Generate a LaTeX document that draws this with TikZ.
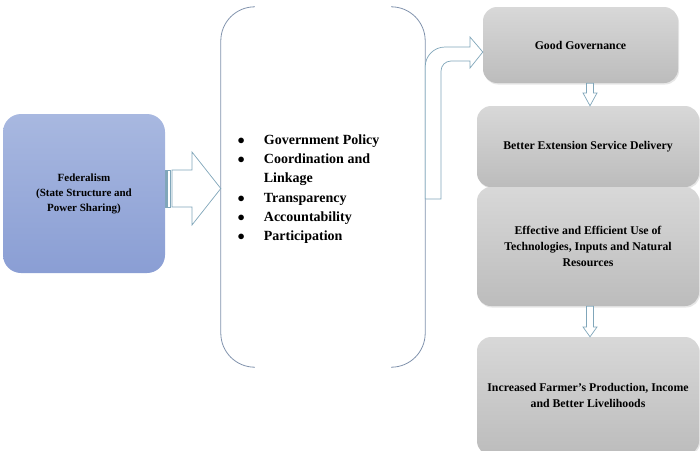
\documentclass[tikz,border=0pt]{standalone}
\usepackage{fontspec}
\setmainfont{Liberation Serif}
\usetikzlibrary{positioning,shadows}

\definecolor{fedtop}{RGB}{168,184,224}
\definecolor{fedbot}{RGB}{138,158,212}
\definecolor{boxtop}{RGB}{216,216,216}
\definecolor{boxbot}{RGB}{188,188,188}
\definecolor{brace}{RGB}{128,146,172}
\definecolor{arrowline}{RGB}{128,166,186}

\tikzset{
  fedbox/.style={rounded corners=18pt, top color=fedtop, bottom color=fedbot,
    minimum width=162pt, minimum height=159pt, align=center,
    font=\fontsize{11}{15}\selectfont\bfseries},
  greybox/.style={rounded corners=14pt, top color=boxtop, bottom color=boxbot,
    drop shadow={opacity=0.2, shadow xshift=1pt, shadow yshift=-1.5pt},
    minimum width=222pt, align=center,
    font=\fontsize{11.8}{16}\selectfont\bfseries},
  blockarrow/.style={draw=arrowline, fill=white, line width=0.7pt, line join=miter},
  bracket/.style={draw=brace, line width=0.8pt, rounded corners=34pt}
}

\begin{document}
\begin{tikzpicture}[x=1pt,y=-1pt]
  \useasboundingbox (0,0) rectangle (700,450);

  % left box
  \node[fedbox] (fed) at (84,193.5) {\raisebox{-3pt}{\begin{tabular}{@{}c@{}}Federalism\\(State Structure and\\Power Sharing)\end{tabular}}};

  % middle part
  \node[minimum width=204pt, minimum height=360pt] (mid) at (323,187) {};
  \draw[bracket] ([xshift=34pt]mid.north west) -- (mid.north west) -- (mid.south west) -- ([xshift=34pt]mid.south west);
  \draw[bracket] ([xshift=-34pt]mid.north east) -- (mid.north east) -- (mid.south east) -- ([xshift=-34pt]mid.south east);
  \node[anchor=west, font=\fontsize{14}{19.3}\selectfont\bfseries, inner sep=0pt] (list) at (237.5,188.5)
    {\begin{tabular}{@{}l@{\hspace{19pt}}l@{}}
      $\bullet$ & Government Policy\\
      $\bullet$ & Coordination and\\
                & Linkage\\
      $\bullet$ & Transparency\\
      $\bullet$ & Accountability\\
      $\bullet$ & Participation
    \end{tabular}};

  % right column
  \node[greybox, minimum width=195pt, minimum height=76pt] (gov) at (580.5,45) {\raisebox{-2pt}{Good Governance}};
  \node[greybox, minimum height=81pt] (ext) at (588,146.5) {\raisebox{-2pt}{Better Extension Service Delivery}};
  \node[greybox, minimum height=119pt] (use) at (588,246.5) {Effective and Efficient Use of\\Technologies, Inputs and Natural\\Resources};
  \node[greybox, minimum height=118pt] (out) at (588,396) {\raisebox{-2pt}{\begin{tabular}{@{}c@{}}Increased Farmer's Production, Income\\and Better Livelihoods\end{tabular}}};

  % striped arrow fed -> mid
  \draw[blockarrow] (fed.east |- 0,170) rectangle (166.5,207);
  \draw[blockarrow] (167.8,170) rectangle (170.5,207);
  \draw[blockarrow] (172,170) -- (192,170) -- (192,152) -- (mid.west |- 0,188.5) -- (192,225) -- (192,207) -- (172,207) -- cycle;

  % bent arrow mid -> gov
  \draw[blockarrow] (mid.east |- 0,199) -- (mid.east |- 0,67) .. controls (425,56) and (434,47) .. (445,47)
    -- (470,47) -- (470,37) -- (gov.west |- 0,52) -- (470,68) -- (470,61) -- (451,61)
    .. controls (445.5,61) and (441,65.5) .. (441,71) -- (441,199) -- cycle;

  % small arrows
  \draw[blockarrow] (586.5,0 |- gov.south) -- (586.5,93) -- (583,93) -- (590,0 |- ext.north) -- (597,93) -- (593.5,93) -- (593.5,0 |- gov.south) -- cycle;
  \draw[blockarrow] (586.5,0 |- use.south) -- (586.5,327) -- (583,327) -- (590,0 |- out.north) -- (597,327) -- (593.5,327) -- (593.5,0 |- use.south) -- cycle;
\end{tikzpicture}
\end{document}
